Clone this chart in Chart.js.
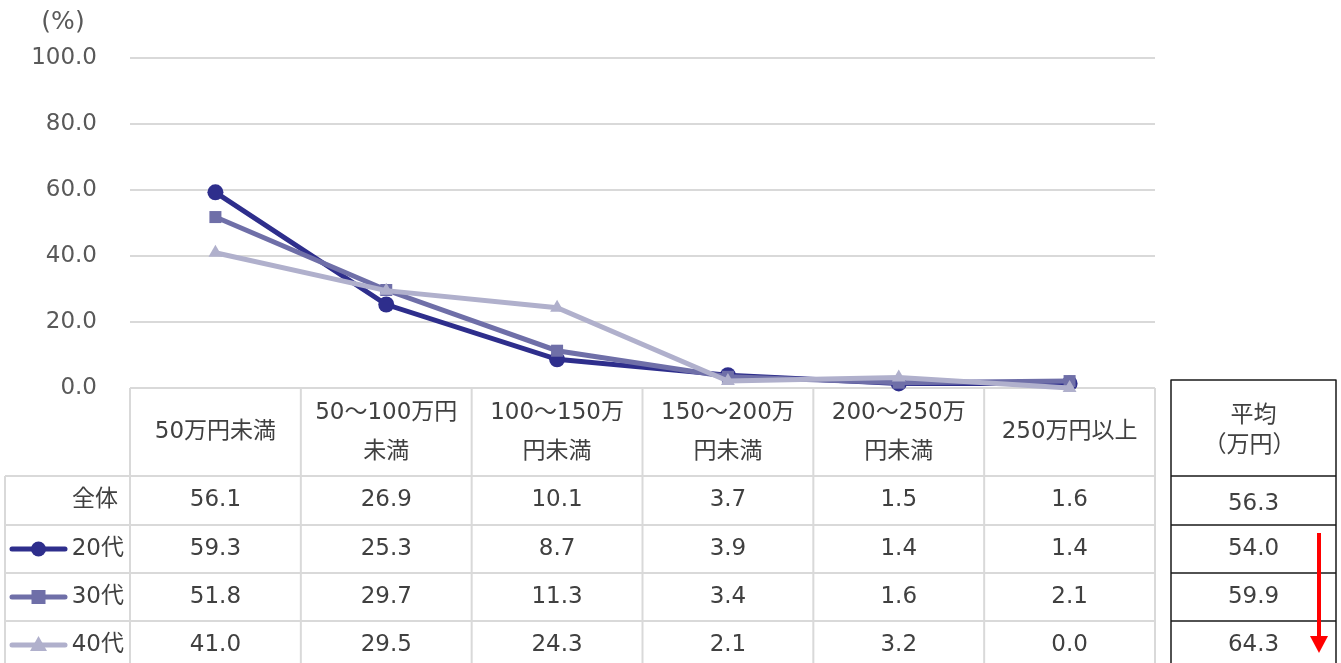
<!DOCTYPE html>
<html lang="ja">
<head>
<meta charset="utf-8">
<script src="https://cdn.jsdelivr.net/npm/chart.js@4"></script>
<style>
  html, body { margin: 0; padding: 0; background: #fff; }
  #wrap { width: 1341px; height: 663px; position: relative; }
</style>
</head>
<body>
<div id="wrap"><canvas id="incomeChart"></canvas></div>
<script>
"use strict";

const categories = [["50万円未満"], ["50～100万円", "未満"], ["100～150万", "円未満"], ["150～200万", "円未満"], ["200～250万", "円未満"], ["250万円以上"]];
const seriesNames = ["20代", "30代", "40代"];
const totalLabel = "全体";
const totalRow = [56.1, 26.9, 10.1, 3.7, 1.5, 1.6];
const age20 = [59.3, 25.3, 8.7, 3.9, 1.4, 1.4];
const age30 = [51.8, 29.7, 11.3, 3.4, 1.6, 2.1];
const age40 = [41.0, 29.5, 24.3, 2.1, 3.2, 0.0];
const averageHeader = ["平均", "（万円）"];
const averages = [56.3, 54.0, 59.9, 64.3];
const yTicks = [0, 20, 40, 60, 80, 100];

const FONT = '"DejaVu Sans", "Noto Sans CJK JP", sans-serif';
const TEXT = "#404040";
const GRID = "#d9d9d9";
const colors = ["#2e2e8c", "#6f6fa8", "#b0b0cc"];
const styles = ["circle", "rect", "triangle"];

// table under the plot + the average table on the right
const tablePlugin = {
	id: "tablePlugin",
	beforeDatasetsDraw(chart) {
		const ctx = chart.ctx;
		const area = chart.chartArea;
		const n = categories.length;
		const w = (area.right - area.left) / n;
		const headTop = area.bottom;
		const rows = [476, 525, 573, 621, 700];
		const leftX = 5;

		ctx.save();
		ctx.strokeStyle = GRID;
		ctx.lineWidth = 2;
		ctx.beginPath();
		// horizontals
		ctx.moveTo(area.left, headTop); ctx.lineTo(area.right, headTop);
		rows.slice(0, 4).forEach(y => { ctx.moveTo(leftX, y); ctx.lineTo(area.right, y); });
		// verticals
		for (let i = 0; i <= n; i++) {
			const x = area.left + i * w;
			ctx.moveTo(x, headTop); ctx.lineTo(x, 663);
		}
		ctx.moveTo(leftX, rows[0]); ctx.lineTo(leftX, 663);
		ctx.stroke();

		ctx.fillStyle = TEXT;
		ctx.font = "23px " + FONT;
		ctx.textAlign = "center";
		ctx.textBaseline = "middle";
		categories.forEach((lines, i) => {
			const cx = area.left + (i + 0.5) * w;
			const cy = (headTop + rows[0]) / 2;
			if (lines.length === 1) {
				ctx.fillText(lines[0], cx, cy);
			} else {
				ctx.fillText(lines[0], cx, cy - 19);
				ctx.fillText(lines[1], cx, cy + 20);
			}
		});

		const body = [totalRow, age20, age30, age40];
		body.forEach((vals, r) => {
			const cy = (rows[r] + Math.min(rows[r + 1], 669)) / 2;
			ctx.textAlign = "center";
			vals.forEach((v, i) => {
				ctx.fillText(v.toFixed(1), area.left + (i + 0.5) * w, cy);
			});
			ctx.textAlign = "right";
			if (r === 0) {
				ctx.fillText(totalLabel, area.left - 12, cy);
			} else {
				ctx.fillText(seriesNames[r - 1], area.left - 6, cy);
				const k = r - 1;
				ctx.strokeStyle = colors[k];
				ctx.lineWidth = 5;
				ctx.lineCap = "round";
				ctx.beginPath();
				ctx.moveTo(12, cy); ctx.lineTo(65, cy);
				ctx.stroke();
				drawMarker(ctx, styles[k], colors[k], 38.5, cy);
			}
		});

		// average table
		const ax0 = 1171, ax1 = 1336;
		const aTop = 380;
		ctx.strokeStyle = "#1a1a1a";
		ctx.lineWidth = 1.5;
		ctx.beginPath();
		ctx.moveTo(ax0, aTop); ctx.lineTo(ax1, aTop);
		rows.slice(0, 4).forEach(y => { ctx.moveTo(ax0, y); ctx.lineTo(ax1, y); });
		ctx.moveTo(ax0, aTop); ctx.lineTo(ax0, 663);
		ctx.moveTo(ax1, aTop); ctx.lineTo(ax1, 663);
		ctx.stroke();
		ctx.fillStyle = TEXT;
		ctx.textAlign = "center";
		const acx = (ax0 + ax1) / 2;
		ctx.fillText(averageHeader[0], acx, 416);
		ctx.fillText(averageHeader[1], acx - 4, 446);
		averages.forEach((v, r) => {
			const cy = (rows[r] + Math.min(rows[r + 1], 669)) / 2 + (r === 0 ? 4 : 0);
			ctx.fillText(v.toFixed(1), acx, cy);
		});

		// red arrow
		ctx.strokeStyle = "#ff0000";
		ctx.fillStyle = "#ff0000";
		ctx.lineWidth = 4;
		ctx.lineCap = "butt";
		ctx.beginPath();
		ctx.moveTo(1319, 533); ctx.lineTo(1319, 640);
		ctx.stroke();
		ctx.beginPath();
		ctx.moveTo(1310, 636); ctx.lineTo(1328, 636); ctx.lineTo(1319, 653);
		ctx.closePath();
		ctx.fill();

		// unit label
		ctx.fillStyle = "#595959";
		ctx.font = "25px " + FONT;
		ctx.textAlign = "center";
		ctx.fillText("(%)", 63, 22);
		ctx.restore();
	}
};

function drawMarker(ctx, style, color, x, y) {
	ctx.save();
	ctx.fillStyle = color;
	ctx.beginPath();
	if (style === "circle") {
		ctx.arc(x, y, 7.5, 0, Math.PI * 2);
	} else if (style === "rect") {
		ctx.rect(x - 7, y - 7, 14, 14);
	} else {
		ctx.moveTo(x, y - 9); ctx.lineTo(x + 8.5, y + 6); ctx.lineTo(x - 8.5, y + 6);
		ctx.closePath();
	}
	ctx.fill();
	ctx.restore();
}

const datasets = [age20, age30, age40].map((vals, k) => ({
	label: seriesNames[k],
	data: vals,
	borderColor: colors[k],
	backgroundColor: colors[k],
	borderWidth: 5,
	pointStyle: styles[k],
	pointRadius: k === 1 ? 8.5 : 8,
	pointHoverRadius: 8,
	pointBorderWidth: 0,
	tension: 0,
	clip: false
}));

const ctx = document.querySelector("#incomeChart").getContext("2d");
new Chart(ctx, {
	type: "line",
	data: {
		labels: categories.map(c => c.join("")),
		datasets: datasets.slice().reverse()
	},
	options: {
		responsive: true,
		maintainAspectRatio: false,
		animation: false,
		layout: {
			padding: { left: 0, top: 58, right: 186, bottom: 275 }
		},
		plugins: {
			legend: { display: false },
			tooltip: { enabled: false }
		},
		scales: {
			x: {
				type: "category",
				offset: true,
				display: false
			},
			y: {
				min: 0,
				max: 100,
				afterBuildTicks(scale) {
					scale.ticks = yTicks.map(v => ({ value: v }));
				},
				afterFit(scale) {
					scale.width = 130;
				},
				border: { display: false },
				grid: { color: GRID, lineWidth: 2, drawTicks: false },
				ticks: {
					padding: 33,
					color: "#595959",
					font: { family: FONT, size: 23 },
					callback: v => Number(v).toFixed(1)
				}
			}
		}
	},
	plugins: [tablePlugin]
});
</script>
</body>
</html>
